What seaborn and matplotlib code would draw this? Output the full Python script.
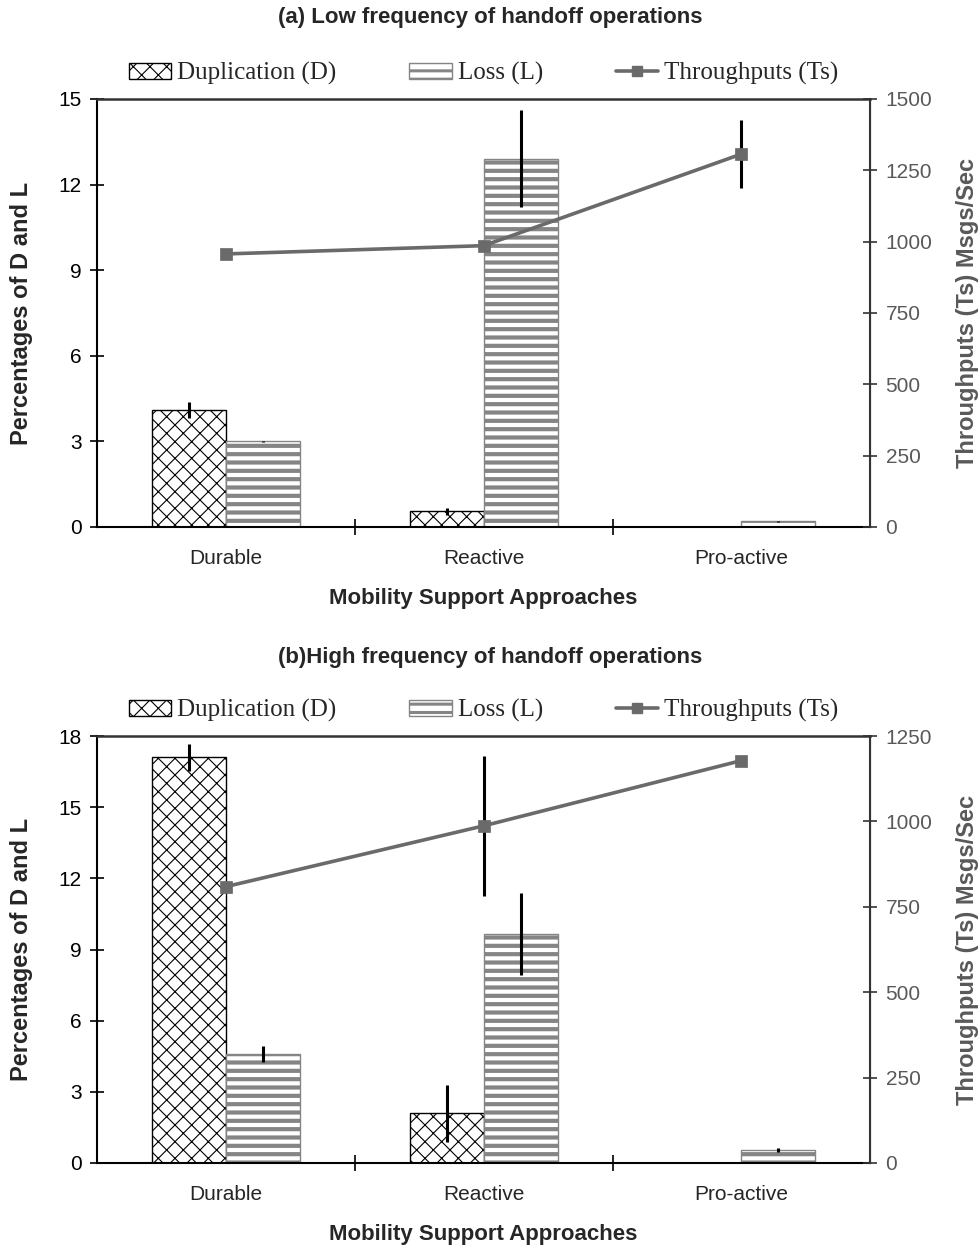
import numpy as np
import pandas as pd
import matplotlib
matplotlib.use('Agg')
import matplotlib.pyplot as plt
from matplotlib.patches import Patch
from matplotlib.lines import Line2D
import seaborn as sns

# values
cats = ['Durable', 'Reactive', 'Pro-active']
metrics = ['Duplication (D)', 'Loss (L)']

low_dup = [4.1, 0.55, 0.0]
low_dup_err = [0.27, 0.12, 0.0]
low_loss = [3.0, 12.9, 0.2]
low_loss_err = [0.03, 1.7, 0.02]
low_ts = [957, 986, 1307]
low_ts_err = [0, 0, 118]

high_dup = [17.1, 2.1, 0.0]
high_dup_err = [0.56, 1.2, 0.0]
high_loss = [4.6, 9.65, 0.55]
high_loss_err = [0.35, 1.72, 0.1]
high_ts = [809, 987, 1178]
high_ts_err = [0, 204, 0]

sns.set_style('ticks')
plt.rcParams['font.family'] = ['Liberation Sans', 'DejaVu Sans']

LINE_GRAY = '#6a6a6a'
STRIPE_GRAY = '#858585'
RIGHT_GRAY = '#595959'
TICK_FS = 15
LABEL_FS = 16


def style_patch(p, kind):
    p.set_facecolor('white')
    p.set_linewidth(1.0)
    if kind == 0:
        p.set_edgecolor('black')
        p.set_hatch('xx')
        if hasattr(p, 'set_hatch_linewidth'):
            p.set_hatch_linewidth(0.8)
    else:
        p.set_edgecolor(STRIPE_GRAY)
        p.set_hatch('--')
        if hasattr(p, 'set_hatch_linewidth'):
            p.set_hatch_linewidth(3.0)


def draw_panel(ax, dup, dup_err, loss, loss_err, ts, ts_err, ymax, ystep, tsmax):
    df = pd.DataFrame({
        'approach': cats * 2,
        'metric': [metrics[0]] * 3 + [metrics[1]] * 3,
        'value': dup + loss,
    })
    sns.barplot(data=df, x='approach', y='value', hue='metric', order=cats,
                hue_order=metrics, width=0.575, errorbar=None, ax=ax,
                legend=False, gap=0)

    errs = {0: dup_err, 1: loss_err}
    vals = {0: dup, 1: loss}
    for p in ax.patches:
        xc = p.get_x() + p.get_width() / 2
        i = int(round(xc))
        kind = 0 if xc < i else 1
        style_patch(p, kind)
        if errs[kind][i] > 0:
            ax.errorbar(xc, vals[kind][i], yerr=errs[kind][i], fmt='none',
                        ecolor='black', elinewidth=2.2, capsize=0, zorder=5)

    ax.set_ylim(0, ymax)
    ax.set_yticks(np.arange(0, ymax + 0.1, ystep))
    ax.set_xticks(range(len(cats)))
    ax.set_xticks([0.5, 1.5], minor=True)
    ax.tick_params(axis='x', which='major', length=0, labelsize=TICK_FS, pad=16)
    ax.tick_params(axis='x', which='minor', length=12, width=1.2,
                   direction='inout', color='black')
    ax.tick_params(axis='y', length=10, width=1.2, direction='inout',
                   labelsize=TICK_FS, colors='black', pad=6)
    ax.set_xlabel('Mobility Support Approaches', fontsize=LABEL_FS,
                  fontweight='bold', labelpad=14)
    ax.set_ylabel('Percentages of D and L', fontsize=LABEL_FS + 1,
                  fontweight='bold', labelpad=18)
    for s in ['left', 'bottom']:
        ax.spines[s].set_color('black')
        ax.spines[s].set_linewidth(1.5)
    ax.spines['top'].set_visible(True)
    ax.spines['top'].set_color('#333333')
    ax.spines['top'].set_linewidth(1.8)

    ax2 = ax.twinx()
    sns.pointplot(x=cats, y=ts, ax=ax2, color=LINE_GRAY, markers='s',
                  markersize=6.5, linewidth=2.6, errorbar=None)
    for i, e in enumerate(ts_err):
        if e > 0:
            ax2.errorbar(i, ts[i], yerr=e, fmt='none', ecolor='black',
                         elinewidth=2.2, capsize=0, zorder=1)
    ax2.set_ylim(0, tsmax)
    ax2.set_yticks(np.arange(0, tsmax + 1, 250))
    ax2.tick_params(axis='y', length=10, width=1.2, direction='inout',
                    labelsize=TICK_FS, labelcolor=RIGHT_GRAY, color='#333333',
                    pad=6)
    ax2.set_ylabel('Throughputs (Ts) Msgs/Sec', fontsize=LABEL_FS + 1,
                   fontweight='bold', color=RIGHT_GRAY, labelpad=17)
    ax2.spines['right'].set_visible(True)
    ax2.spines['right'].set_color('#333333')
    ax2.spines['right'].set_linewidth(1.5)
    ax2.spines['top'].set_visible(False)
    ax2.spines['left'].set_visible(False)
    ax2.spines['bottom'].set_visible(False)
    ax2.set_xlim(-0.5, 2.5)
    ax.set_xlim(-0.5, 2.5)
    ax2.set_xlabel('')

    handles = [
        Patch(facecolor='white', edgecolor='black', hatch='xx'),
        Patch(facecolor='white', edgecolor=STRIPE_GRAY, hatch='--'),
        Line2D([], [], color=LINE_GRAY, marker='s', markersize=6.5, lw=2.6),
    ]
    labels = ['Duplication (D)', 'Loss (L)', 'Throughputs (Ts)']
    leg = ax2.legend(handles, labels, ncol=3, loc='lower center',
                     bbox_to_anchor=(0.5, 1.0), frameon=False, columnspacing=2.9,
                     handlelength=1.7, handleheight=0.6, handletextpad=0.25,
                     borderaxespad=0.15,
                     prop={'family': ['Liberation Serif', 'DejaVu Serif'], 'size': 18})
    for j, h in enumerate(leg.legend_handles[:2]):
        if hasattr(h, 'set_hatch_linewidth'):
            h.set_hatch_linewidth(0.8 if j == 0 else 2.2)


fig = plt.figure(figsize=(9.8, 12.5), dpi=100)
ax_top = fig.add_axes([0.099, 0.5784, 0.789, 0.3424])
ax_bot = fig.add_axes([0.099, 0.0696, 0.789, 0.3416])

draw_panel(ax_top, low_dup, low_dup_err, low_loss, low_loss_err,
           low_ts, low_ts_err, 15, 3, 1500)
draw_panel(ax_bot, high_dup, high_dup_err, high_loss, high_loss_err,
           high_ts, high_ts_err, 18, 3, 1250)

fig.text(0.5, 0.9856, '(a) Low frequency of handoff operations',
         ha='center', va='center', fontsize=LABEL_FS, fontweight='bold')
fig.text(0.5, 0.4736, '(b)High frequency of handoff operations',
         ha='center', va='center', fontsize=LABEL_FS, fontweight='bold')

fig.savefig('out.png', dpi=100)
